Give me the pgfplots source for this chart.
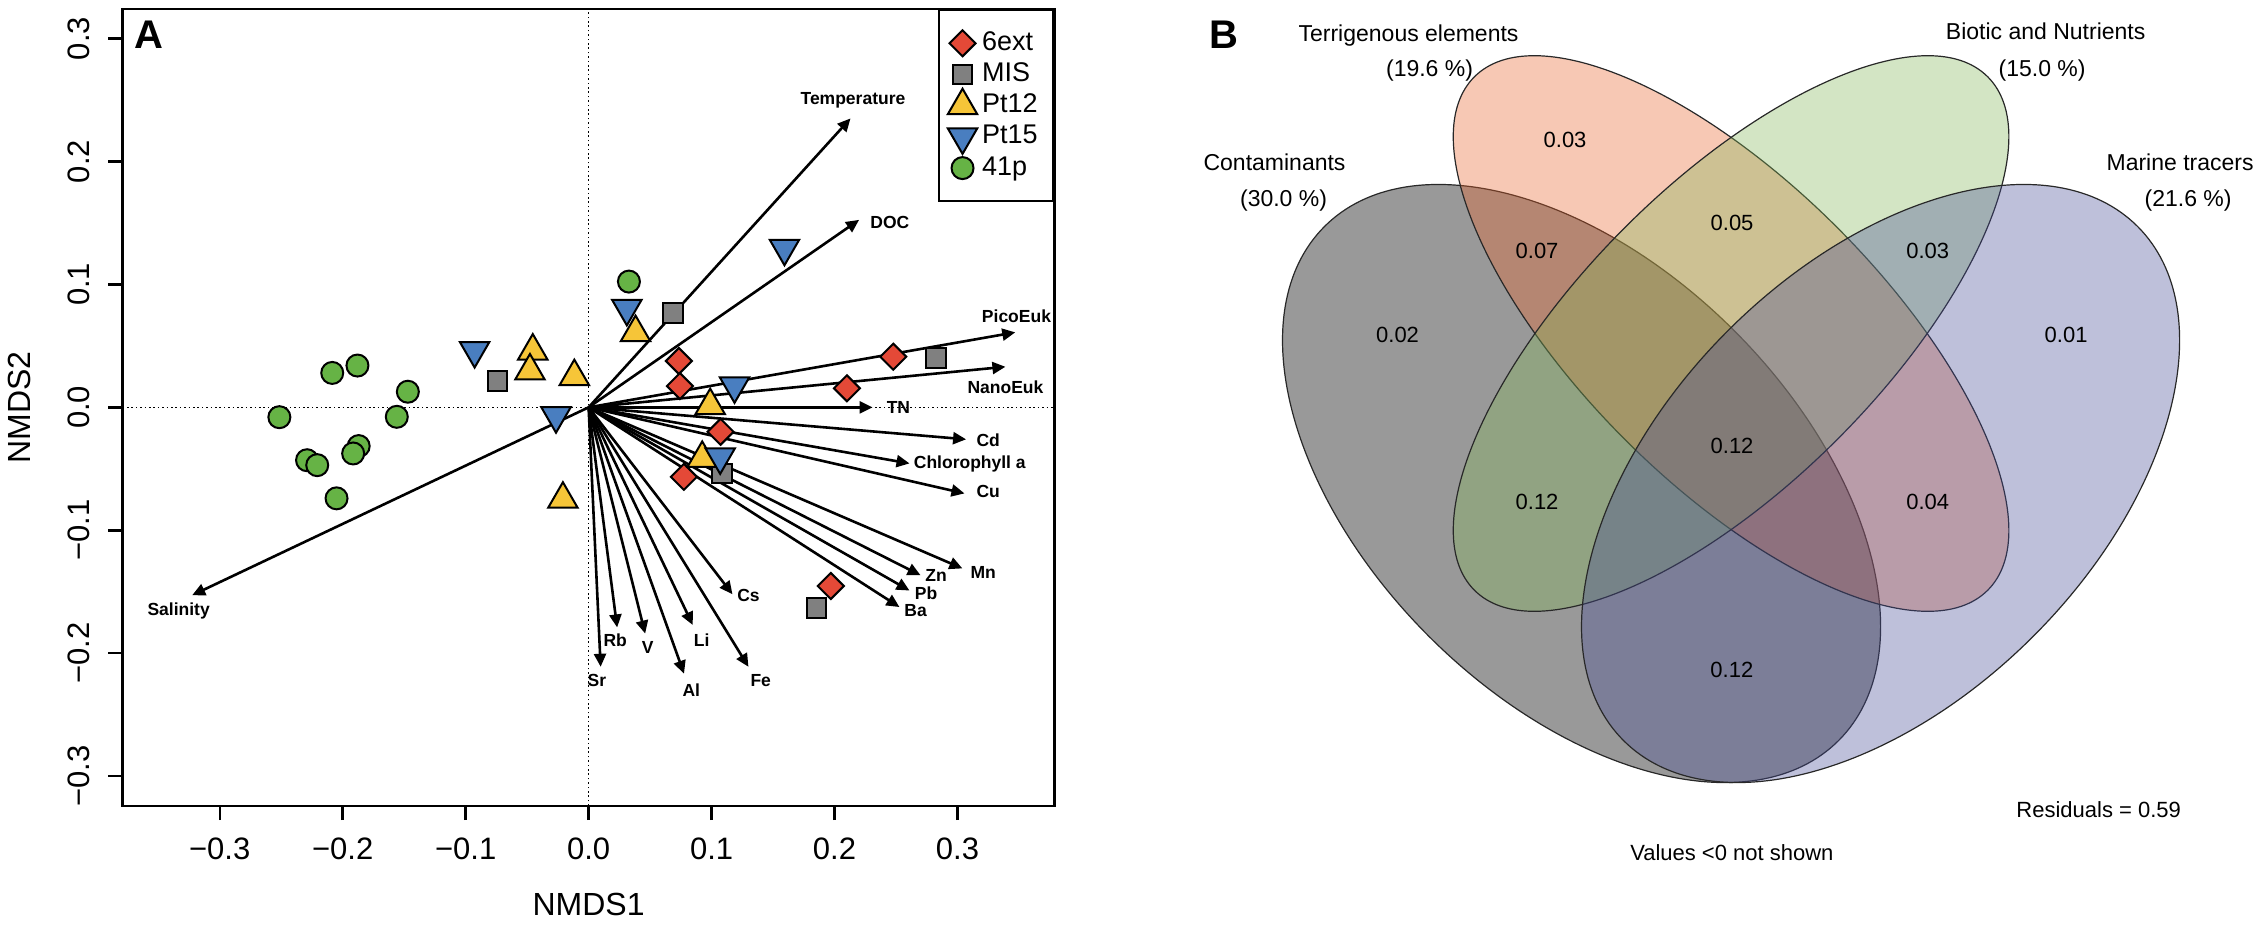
\documentclass[border=0pt]{standalone}
\usepackage{fontspec}
\setmainfont{Liberation Sans}
\usepackage{pgfplots}
\pgfplotsset{compat=1.18}
\usepackage{pgfplotstable}
\usetikzlibrary{arrows.meta}

\definecolor{cRed}{RGB}{228,73,55}
\definecolor{cGray}{RGB}{128,128,128}
\definecolor{cYel}{RGB}{246,197,56}
\definecolor{cBlue}{RGB}{73,126,192}
\definecolor{cGreen}{RGB}{102,179,69}
\definecolor{vPink}{RGB}{232,98,41}
\definecolor{vGreen}{RGB}{129,181,86}
\definecolor{vBlue}{RGB}{69,75,149}
\definecolor{vLine}{RGB}{40,40,40}

\pgfplotstableread{
x y
0.0734 0.0377
0.0743 0.0173
0.2478 0.0412
0.2101 0.0155
0.1073 -0.0199
0.0775 -0.0565
0.1970 -0.1453
}\tabRed
\pgfplotstableread{
x y
-0.0741 0.0214
0.0686 0.0765
0.2826 0.0399
0.1087 -0.0537
0.1854 -0.1632
}\tabGray
\pgfplotstableread{
x y
-0.0454 0.0458
-0.0477 0.0296
-0.0116 0.0250
0.0382 0.0608
0.0989 0.0014
0.0924 -0.0415
-0.0209 -0.0747
}\tabYel
\pgfplotstableread{
x y
-0.0927 0.0462
-0.0265 -0.0068
0.0311 0.0805
0.1593 0.1294
0.1187 0.0175
0.1070 -0.0403
}\tabBlue
\pgfplotstableread{
x y
0.0328 0.1023
-0.2085 0.0280
-0.1880 0.0340
-0.1470 0.0127
-0.2515 -0.0080
-0.1560 -0.0077
-0.1870 -0.0315
-0.1915 -0.0375
-0.2290 -0.0430
-0.2207 -0.0470
-0.2050 -0.0740
}\tabGreen

\tikzset{
  envarrow/.style={black, line width=1.3pt, -{Triangle[length=6.5pt,width=6pt]}},
  envlab/.style={font=\bfseries\fontsize{8.75}{10}\selectfont, inner sep=0pt, anchor=center},
  vtxt/.style={font=\fontsize{11.5}{13}\selectfont, inner sep=0pt, anchor=base},
  vval/.style={font=\fontsize{11}{13}\selectfont, inner sep=0pt, anchor=center},
}
\pgfplotsset{
  legimg/.style={legend image code/.code={%
    \node[draw=none, fill=none, anchor=center, inner sep=0pt, minimum width=15pt, minimum height=15.6pt, text height=0pt, text depth=0pt] at (0pt,0pt) {};%
    \draw[##1,overlay] plot coordinates {(0pt,0pt)};}},
}

\begin{document}
\begin{tikzpicture}
\useasboundingbox (0,0) rectangle (1132pt,463.5pt);
% ---------------- Panel A ----------------
\begin{axis}[
  at={(61.3pt,60.65pt)}, anchor=south west,
  scale only axis, width=466pt, height=398.35pt,
  xmin=-0.379, xmax=0.379, ymin=-0.324, ymax=0.324,
  axis line style={line width=1.2pt},
  tick pos=left, tick align=outside, major tick length=7.2pt,
  major tick style={black, line width=1.2pt},
  xtick={-0.3,-0.2,-0.1,0,0.1,0.2,0.3},
  xticklabels={−0.3,−0.2,−0.1,0.0,0.1,0.2,0.3},
  ytick={-0.3,-0.2,-0.1,0,0.1,0.2,0.3},
  yticklabels={−0.3,−0.2,−0.1,0.0,0.1,0.2,0.3},
  xticklabel style={font=\fontsize{15.5}{17}\selectfont, inner sep=0pt, anchor=north},
  xticklabel shift=8.5pt,
  yticklabel style={font=\fontsize{15.5}{17}\selectfont, inner sep=0pt, rotate=90, anchor=south},
  yticklabel shift=9.2pt,
  xlabel={NMDS1}, ylabel={NMDS2},
  xlabel style={font=\fontsize{16}{18}\selectfont, inner sep=0pt, at={(axis description cs:0.5,-0.1246)}, anchor=center},
  ylabel style={font=\fontsize{16}{18}\selectfont, inner sep=0pt, at={(axis description cs:-0.1107,0.5)}, anchor=center},
  clip=false,
  legend style={at={(axis description cs:1,1)}, anchor=north east, draw=black, line width=1.2pt, fill=white,
    inner xsep=2pt, inner ysep=2pt, minimum width=57.3pt, minimum height=95.5pt,
    row sep=0pt, column sep=-1.2pt,
    font=\fontsize{13.5}{15}\selectfont, cells={anchor=west},
    nodes={inner xsep=3.5pt, inner ysep=0pt, minimum width=0pt, minimum height=0pt, draw=none, fill=none, text height=9.5pt, text depth=2.5pt}},
]
\addplot[forget plot, black, line width=0.7pt, dash pattern=on 0.8pt off 1.4pt] coordinates {(-0.379,0) (0.379,0)};
\addplot[forget plot, black, line width=0.7pt, dash pattern=on 0.8pt off 1.4pt] coordinates {(0,-0.324) (0,0.324)};

\addplot[only marks, mark=square*, mark size=4.6pt, mark options={rotate=45, fill=cRed, draw=black, line width=1pt}, legimg] table {\tabRed};
\addlegendentry{6ext}
\addplot[only marks, mark=square*, mark size=4.9pt, mark options={fill=cGray, draw=black, line width=1pt}, legimg] table {\tabGray};
\addlegendentry{MIS}
\addplot[only marks, mark=triangle*, mark size=8.5pt, mark options={fill=cYel, draw=black, line width=1pt}, legimg] table {\tabYel};
\addlegendentry{Pt12}
\addplot[only marks, mark=triangle*, mark size=8.5pt, mark options={rotate=180, fill=cBlue, draw=black, line width=1pt}, legimg] table {\tabBlue};
\addlegendentry{Pt15}
\addplot[only marks, mark=*, mark size=5.5pt, mark options={fill=cGreen, draw=black, line width=1pt}, legimg] table {\tabGreen};
\addlegendentry{41p}

% environmental vectors
\addplot[forget plot, envarrow] coordinates {(0,0) (0.213,0.235)};
\addplot[forget plot, envarrow] coordinates {(0,0) (0.220,0.1525)};
\addplot[forget plot, envarrow] coordinates {(0,0) (0.347,0.061)};
\addplot[forget plot, envarrow] coordinates {(0,0) (0.339,0.033)};
\addplot[forget plot, envarrow] coordinates {(0,0) (0.231,0.0)};
\addplot[forget plot, envarrow] coordinates {(0,0) (0.307,-0.026)};
\addplot[forget plot, envarrow] coordinates {(0,0) (0.261,-0.0456)};
\addplot[forget plot, envarrow] coordinates {(0,0) (0.3057,-0.070)};
\addplot[forget plot, envarrow] coordinates {(0,0) (0.304,-0.131)};
\addplot[forget plot, envarrow] coordinates {(0,0) (0.270,-0.1366)};
\addplot[forget plot, envarrow] coordinates {(0,0) (0.261,-0.149)};
\addplot[forget plot, envarrow] coordinates {(0,0) (0.2528,-0.1624)};
\addplot[forget plot, envarrow] coordinates {(0,0) (0.117,-0.152)};
\addplot[forget plot, envarrow] coordinates {(0,0) (0.130,-0.211)};
\addplot[forget plot, envarrow] coordinates {(0,0) (0.0847,-0.177)};
\addplot[forget plot, envarrow] coordinates {(0,0) (0.0776,-0.2166)};
\addplot[forget plot, envarrow] coordinates {(0,0) (0.046,-0.184)};
\addplot[forget plot, envarrow] coordinates {(0,0) (0.0232,-0.179)};
\addplot[forget plot, envarrow] coordinates {(0,0) (0.0098,-0.211)};
\addplot[forget plot, envarrow] coordinates {(0,0) (-0.3224,-0.1528)};

\node[envlab] at (axis cs:0.215,0.250) {Temperature};
\node[envlab] at (axis cs:0.245,0.150) {DOC};
\node[envlab] at (axis cs:0.348,0.074) {PicoEuk};
\node[envlab] at (axis cs:0.339,0.016) {NanoEuk};
\node[envlab] at (axis cs:0.252,0.000) {TN};
\node[envlab] at (axis cs:0.325,-0.027) {Cd};
\node[envlab] at (axis cs:0.310,-0.046) {Chlorophyll a};
\node[envlab] at (axis cs:0.325,-0.0687) {Cu};
\node[envlab] at (axis cs:0.321,-0.134) {Mn};
\node[envlab] at (axis cs:0.2826,-0.137) {Zn};
\node[envlab] at (axis cs:0.2745,-0.1515) {Pb};
\node[envlab] at (axis cs:0.266,-0.1656) {Ba};
\node[envlab] at (axis cs:0.130,-0.153) {Cs};
\node[envlab] at (axis cs:0.140,-0.222) {Fe};
\node[envlab] at (axis cs:0.092,-0.1895) {Li};
\node[envlab] at (axis cs:0.0835,-0.230) {Al};
\node[envlab] at (axis cs:0.048,-0.195) {V};
\node[envlab] at (axis cs:0.0216,-0.1895) {Rb};
\node[envlab] at (axis cs:0.0067,-0.222) {Sr};
\node[envlab] at (axis cs:-0.3334,-0.1656) {Salinity};
\end{axis}

% ---------------- Panel B ----------------
\begin{axis}[
  at={(0pt,0pt)}, anchor=south west,
  scale only axis, width=1132pt, height=463.5pt,
  xmin=0, xmax=2264, ymin=0, ymax=927, y dir=reverse,
  hide axis, clip=false,
]
\draw[draw=vLine, line width=0.6pt, fill=black, fill opacity=0.4, rotate around={-45:(axis cs:1581.5,483.5)}]
  (axis cs:1581.5,483.5) ellipse [x radius=181.75pt, y radius=108pt];
\draw[draw=vLine, line width=0.6pt, fill=vPink, fill opacity=0.35, rotate around={-45:(axis cs:1731,333.5)}]
  (axis cs:1731,333.5) ellipse [x radius=181.5pt, y radius=75pt];
\draw[draw=vLine, line width=0.6pt, fill=vGreen, fill opacity=0.35, rotate around={45:(axis cs:1731,333.5)}]
  (axis cs:1731,333.5) ellipse [x radius=181.5pt, y radius=75pt];
\draw[draw=vLine, line width=0.6pt, fill=vBlue, fill opacity=0.35, rotate around={45:(axis cs:1880.5,483.5)}]
  (axis cs:1880.5,483.5) ellipse [x radius=181.75pt, y radius=108pt];

\node[vtxt] at (axis cs:1274.5,170) {Contaminants};
\node[vtxt] at (axis cs:1283.5,206) {(30.0 \%)};
\node[vtxt] at (axis cs:1408.5,41.7) {Terrigenous elements};
\node[vtxt] at (axis cs:1429.5,76) {(19.6 \%)};
\node[vtxt] at (axis cs:2045.6,39.3) {Biotic and Nutrients};
\node[vtxt] at (axis cs:2042,76) {(15.0 \%)};
\node[vtxt] at (axis cs:2180,170) {Marine tracers};
\node[vtxt] at (axis cs:2188,206.5) {(21.6 \%)};

\node[vval] at (axis cs:1565,140) {0.03};
\node[vval] at (axis cs:1732,223.3) {0.05};
\node[vval] at (axis cs:1537,251) {0.07};
\node[vval] at (axis cs:1927.7,251) {0.03};
\node[vval] at (axis cs:1397.5,335) {0.02};
\node[vval] at (axis cs:2066,335) {0.01};
\node[vval] at (axis cs:1732,446) {0.12};
\node[vval] at (axis cs:1537,501.7) {0.12};
\node[vval] at (axis cs:1927.7,501.7) {0.04};
\node[vval] at (axis cs:1731.8,670) {0.12};
\node[vval] at (axis cs:2098.6,810) {Residuals = 0.59};
\node[vval] at (axis cs:1731.8,853) {Values <0 not shown};

\node[font=\bfseries\fontsize{20}{22}\selectfont, inner sep=0pt, anchor=center] at (axis cs:148.5,34.5) {A};
\node[font=\bfseries\fontsize{20}{22}\selectfont, inner sep=0pt, anchor=center] at (axis cs:1224,34.5) {B};
\end{axis}
\end{tikzpicture}
\end{document}
